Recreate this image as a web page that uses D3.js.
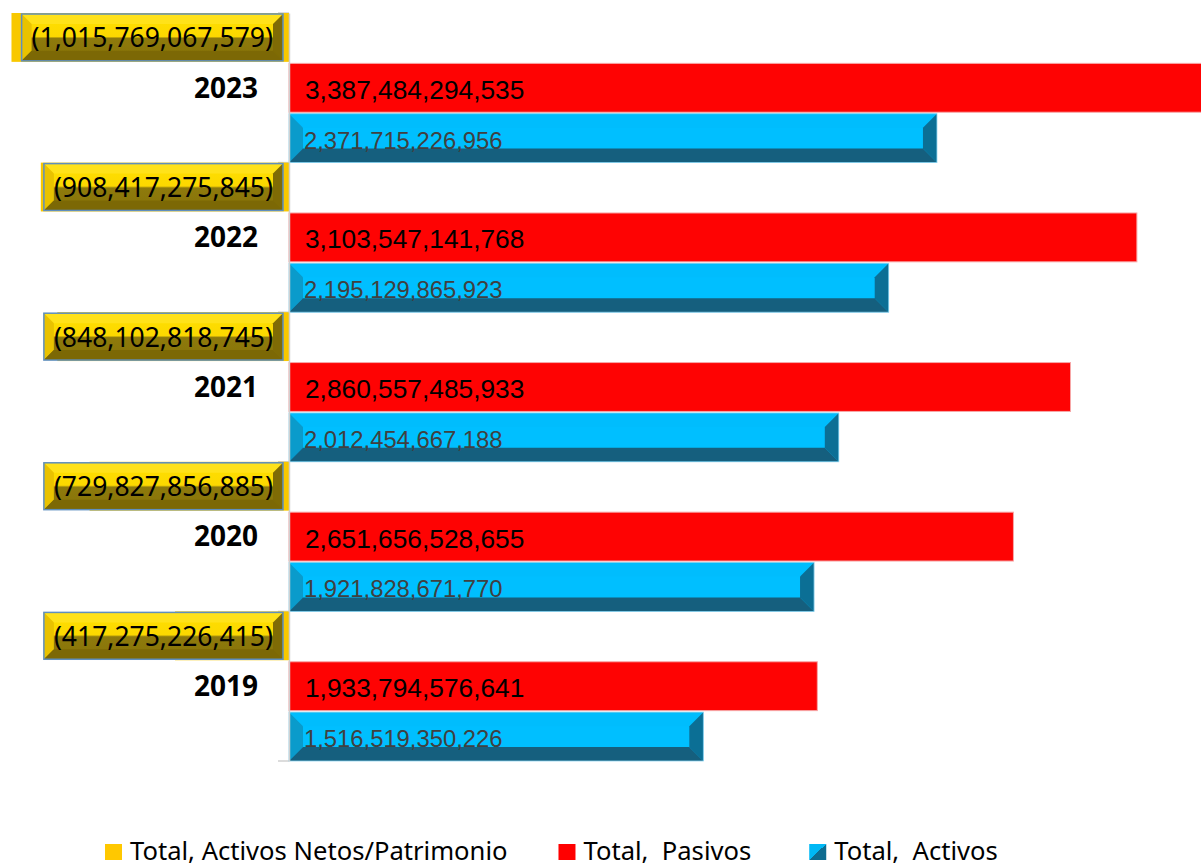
<!DOCTYPE html>
<html>
<head>
<meta charset="utf-8">
<script src="https://cdn.jsdelivr.net/npm/d3@7"></script>
<style>
  body { margin: 0; background: #fff; }
  svg { display: block; }
</style>
</head>
<body>
<div class="graphic"></div>
<script>
var width = 1201;
var height = 868;

// data
var years = [2019, 2020, 2021, 2022, 2023];
var patrimonio = [-417275226415, -729827856885, -848102818745, -908417275845, -1015769067579];
var pasivos = [1933794576641, 2651656528655, 2860557485933, 3103547141768, 3387484294535];
var activos = [1516519350226, 1921828671770, 2012454667188, 2195129865923, 2371715226956];
var seriesKeys = ["patrimonio", "pasivos", "activos"];
var seriesNames = ["Total, Activos Netos/Patrimonio", "Total,  Pasivos", "Total,  Activos"];

var rows = years.map(function(y, i){
	return {year: y, patrimonio: patrimonio[i], pasivos: pasivos[i], activos: activos[i]};
});

var svg = d3.select("div.graphic").append("svg")
	.attr("width", width)
	.attr("height", height);

var defs = svg.append("defs");
var gFace = defs.append("linearGradient").attr("id", "goldFace")
	.attr("x1", 0).attr("y1", 0).attr("x2", 0).attr("y2", 1);
gFace.append("stop").attr("offset", "0%").attr("stop-color", "#ffe000");
gFace.append("stop").attr("offset", "48%").attr("stop-color", "#fcd800");
gFace.append("stop").attr("offset", "52%").attr("stop-color", "#8e7a0c");
gFace.append("stop").attr("offset", "100%").attr("stop-color", "#877308");

var x = d3.scaleLinear()
	.domain([-1.0578e12, 3.3382e12])
	.range([0, width]);

var y = d3.scaleBand()
	.domain(years.slice().reverse())
	.range([13, 761]);

var inner = d3.scaleBand()
	.domain(seriesKeys)
	.range([0, y.bandwidth()])
	.paddingInner(0.03);

var fmt = d3.format(",.0f");

// category ticks (only the bottom one ends up visible)
var tickPos = years.map(function(yr){ return y(yr) + y.bandwidth(); }).concat([y.range()[0]]);
svg.append("g").selectAll("line")
	.data(tickPos)
	.enter()
	.append("line")
	.attr("x1", x(0) - 11).attr("x2", x(0))
	.attr("y1", function(d){ return d; }).attr("y2", function(d){ return d; })
	.attr("stroke", "#d0d0d0").attr("stroke-width", 1.5);

// draws a bevelled box as five polygons
function bevel(g, x0, y0, x1, y1, b, c){
	var pts = {
		top: [[x0,y0],[x1,y0],[x1-b,y0+b],[x0+b,y0+b]],
		left: [[x0,y0],[x0+b,y0+b],[x0+b,y1-b],[x0,y1]],
		right: [[x1,y0],[x1,y1],[x1-b,y1-b],[x1-b,y0+b]],
		bottom: [[x0,y1],[x0+b,y1-b],[x1-b,y1-b],[x1,y1]]
	};
	g.append("rect").attr("x", x0).attr("y", y0)
		.attr("width", x1 - x0).attr("height", y1 - y0)
		.attr("fill", c.face);
	["top", "left", "right", "bottom"].forEach(function(k){
		if (!c[k]) return;
		g.append("polygon")
			.attr("points", pts[k].map(function(p){ return p.join(","); }).join(" "))
			.attr("fill", c[k]);
	});
	if (c.stroke){
		g.append("rect").attr("x", x0).attr("y", y0)
			.attr("width", x1 - x0).attr("height", y1 - y0)
			.attr("fill", "none").attr("stroke", c.stroke).attr("stroke-width", c.sw || 1);
	}
}

var groups = svg.append("g").selectAll("g")
	.data(rows)
	.enter()
	.append("g")
	.attr("transform", function(d){ return "translate(0," + y(d.year) + ")"; });

// patrimonio bar (flat gold)
groups.append("rect")
	.attr("x", function(d){ return x(d.patrimonio); })
	.attr("y", inner("patrimonio"))
	.attr("width", function(d){ return x(0) - x(d.patrimonio); })
	.attr("height", inner.bandwidth())
	.attr("fill", "#f8c800");

// pasivos bar (red)
groups.append("rect")
	.attr("x", x(0))
	.attr("y", inner("pasivos"))
	.attr("width", function(d){ return x(d.pasivos) - x(0); })
	.attr("height", inner.bandwidth())
	.attr("fill", "#fe0303")
	.attr("stroke", "#f7a8a8")
	.attr("stroke-width", 1);

// activos bar (bevelled blue)
groups.each(function(d){
	var g = d3.select(this).append("g");
	var y0 = inner("activos");
	bevel(g, x(0), y0, x(d.activos), y0 + inner.bandwidth(), 14, {
		face: "#00bfff", top: "#00bdfd", left: "#0a9bcb",
		right: "#0b6f95", bottom: "#155f7e", stroke: "#8fd3ee", sw: 0.8
	});
});

// value labels
groups.append("text")
	.attr("x", x(0) + 16)
	.attr("y", inner("pasivos") + inner.bandwidth() / 2 + 11)
	.attr("font-family", "Liberation Sans, Arial, sans-serif")
	.attr("font-size", 26.3)
	.attr("fill", "#000")
	.text(function(d){ return fmt(d.pasivos); });

groups.append("text")
	.attr("x", x(0) + 15)
	.attr("y", inner("activos") + inner.bandwidth() - 14)
	.attr("font-family", "Liberation Sans, Arial, sans-serif")
	.attr("font-size", 23.8)
	.attr("fill", "#404040")
	.text(function(d){ return fmt(d.activos); });

// patrimonio label boxes
groups.each(function(d){
	var g = d3.select(this).append("g");
	var label = "(" + fmt(-d.patrimonio) + ")";
	var t = g.append("text")
		.attr("font-family", "Noto Sans, sans-serif")
		.attr("font-size", 26.5)
		.attr("fill", "#000")
		.text(label);
	var tw = t.node().getComputedTextLength();
	var x1 = x(0) - 6;
	var x0 = x1 - tw - 20;
	var y0 = inner("patrimonio") + 1;
	var y1 = inner("patrimonio") + inner.bandwidth() - 1;
	var box = g.insert("g", "text");
	bevel(box, x0, y0, x1, y1, 10, {
		face: "url(#goldFace)", top: "#ffe21a", left: "#e9c200",
		right: "#7f6b05", bottom: "#7c6805", stroke: "#5f8fbf", sw: 1.5
	});
	t.attr("x", x0 + 10).attr("y", (y0 + y1) / 2 + 10);
});

// category axis
var axis = svg.append("g")
	.attr("transform", "translate(" + x(0) + ",0)")
	.call(d3.axisLeft(y).tickSize(0).tickSizeOuter(0).tickPadding(31));
axis.select(".domain").attr("stroke", "#d0d0d0").attr("stroke-width", 1.5);
axis.selectAll("text")
	.attr("font-family", "Noto Sans, sans-serif")
	.attr("font-weight", "bold")
	.attr("font-size", 28)
	.attr("fill", "#000")
	.attr("dy", "0.35em");

// legend
var lgGrad = defs.append("linearGradient").attr("id", "lgBlue")
	.attr("x1", 0).attr("y1", 0).attr("x2", 1).attr("y2", 1);
lgGrad.append("stop").attr("offset", "50%").attr("stop-color", "#00b8f5");
lgGrad.append("stop").attr("offset", "50%").attr("stop-color", "#0e6c90");
var legendFills = ["#ffc800", "#ff0000", "url(#lgBlue)"];
var legendGaps = [51, 58, 0];

var legend = svg.append("g");
var lx = 105;
seriesNames.forEach(function(name, i){
	legend.append("rect")
		.attr("x", lx).attr("y", 844)
		.attr("width", 17).attr("height", 16)
		.attr("fill", legendFills[i]);
	var t = legend.append("text")
		.attr("x", lx + 25).attr("y", 860)
		.attr("font-family", "Noto Sans, sans-serif")
		.attr("font-size", 25.6)
		.attr("fill", "#000")
		.style("white-space", "pre")
		.text(name);
	lx = lx + 25 + t.node().getComputedTextLength() + legendGaps[i];
});
</script>
</body>
</html>
